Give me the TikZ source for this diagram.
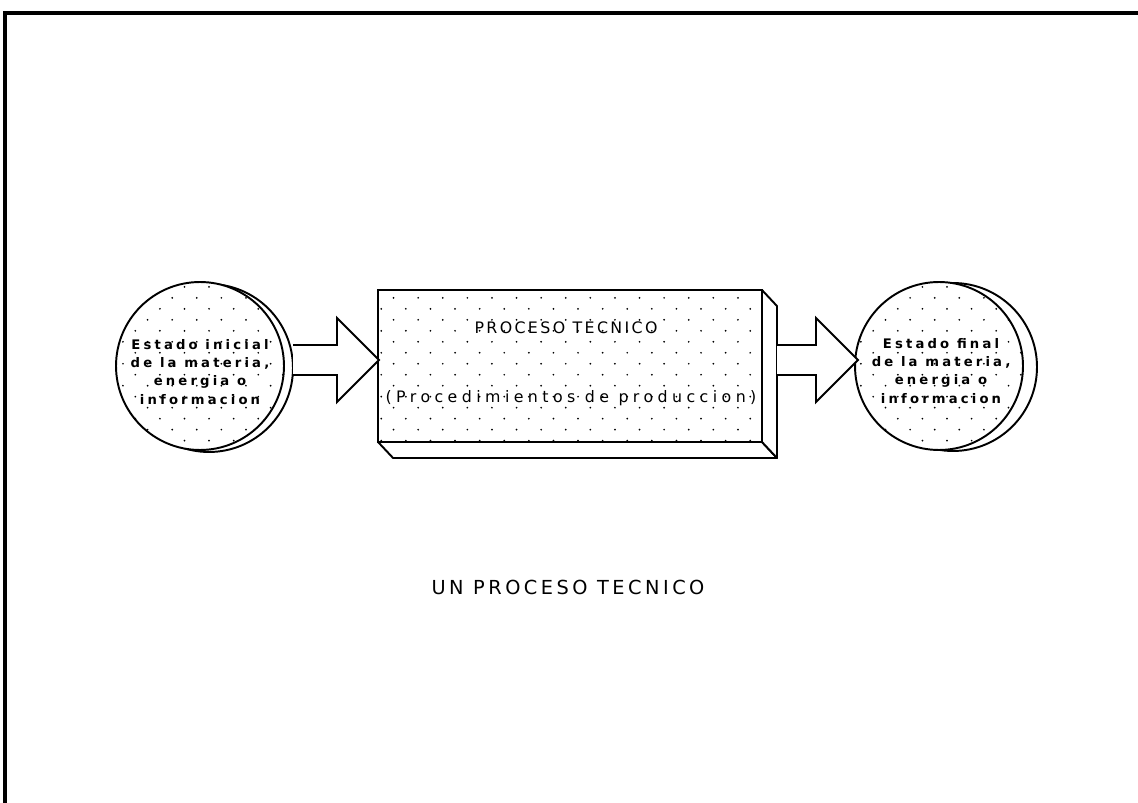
\documentclass[tikz,border=0pt]{standalone}
\usepackage{fontspec}
\newfontfamily\plotfont[LetterSpace=15]{DejaVu Sans}
\usetikzlibrary{patterns.meta,positioning,calc}

\tikzdeclarepattern{
  name=puntos,
  type=uncolored,
  bottom left={(-1pt,-1pt)},
  top right={(13pt,12pt)},
  tile size={(14pt,12.5pt)},
  code={
    \fill (0pt,0pt) circle (0.55pt);
    \fill (7pt,6.25pt) circle (0.55pt);
  }
}

\tikzset{
  marco/.style={line width=1.8pt},
  sombra/.style={circle, draw, line width=1.1pt, fill=white, minimum size=3.36cm, inner sep=0pt},
  circulo/.style={circle, draw, line width=1.1pt, preaction={fill=white}, pattern=puntos,
    minimum size=3.36cm, inner sep=0pt},
  texto/.style={inner sep=0pt, align=center,
    font=\plotfont\addfontfeatures{LetterSpace=24}\bfseries\fontsize{7.5}{10.3}\selectfont},
  caja/.style={rectangle, draw, line width=1.1pt, preaction={fill=white}, pattern=puntos,
    minimum width=7.68cm, minimum height=3.04cm, inner sep=0pt, outer sep=0pt},
  cara/.style={draw, line width=1.1pt, fill=white, line join=round},
  bloque/.style={draw, line width=1.1pt, fill=white, line join=miter},
  rotulo/.style={inner sep=1pt, font=\plotfont\fontsize{9}{11}\selectfont},
  pics/flecha/.style={code={
    \draw[bloque] (0,-15) -- (#1,-15) -- (#1,-42) -- ++(42,42) -- (#1,42) -- (#1,15) -- (0,15);
  }}
}

\begin{document}
\begin{tikzpicture}[x=0.02cm,y=-0.02cm]
  \useasboundingbox (0,0) rectangle (1138,803);
  \draw[marco] (5,803) -- (5,13) -- (1138,13);

  % estados
  \node[sombra] (sombraIni) at (209,368) {};
  \node[circulo] (inicio) at (200,366) {};
  \node[texto] (txtIni) at ($(inicio)+(0,6)$) {Estado inicial\\de la materia,\\energia o\\informacion};
  \node[sombra] (sombraFin) at (953,367) {};
  \node[circulo] (final) at (939,366) {};
  \node[texto] (txtFin) at ($(final)+(2,5)$) {Estado final\\de la materia,\\energia o\\informacion};

  % proceso
  \node[caja] (proceso) at (570,366) {};
  \draw[cara] (proceso.south west) -- ++(15,16) -- ($(proceso.south east)+(15,16)$) -- (proceso.south east) -- cycle;
  \draw[cara] (proceso.north east) -- ++(15,16) -- ($(proceso.south east)+(15,16)$) -- (proceso.south east) -- cycle;
  \node[rotulo] (titulo) at (566,328) {PROCESO TECNICO};
  \node[rotulo, font=\plotfont\addfontfeatures{LetterSpace=28}\fontsize{9}{11}\selectfont] (metodo) at (571,398) {(Procedimientos de produccion)};

  % flechas
  \coordinate (entrada) at (293,360);
  \coordinate (salida) at (777,360);
  \pic at (entrada) {flecha=44};
  \pic at (salida) {flecha=39};

  \node[rotulo, font=\plotfont\addfontfeatures{LetterSpace=18}\fontsize{11}{13}\selectfont] (leyenda) at (568,587) {UN PROCESO TECNICO};
\end{tikzpicture}
\end{document}
